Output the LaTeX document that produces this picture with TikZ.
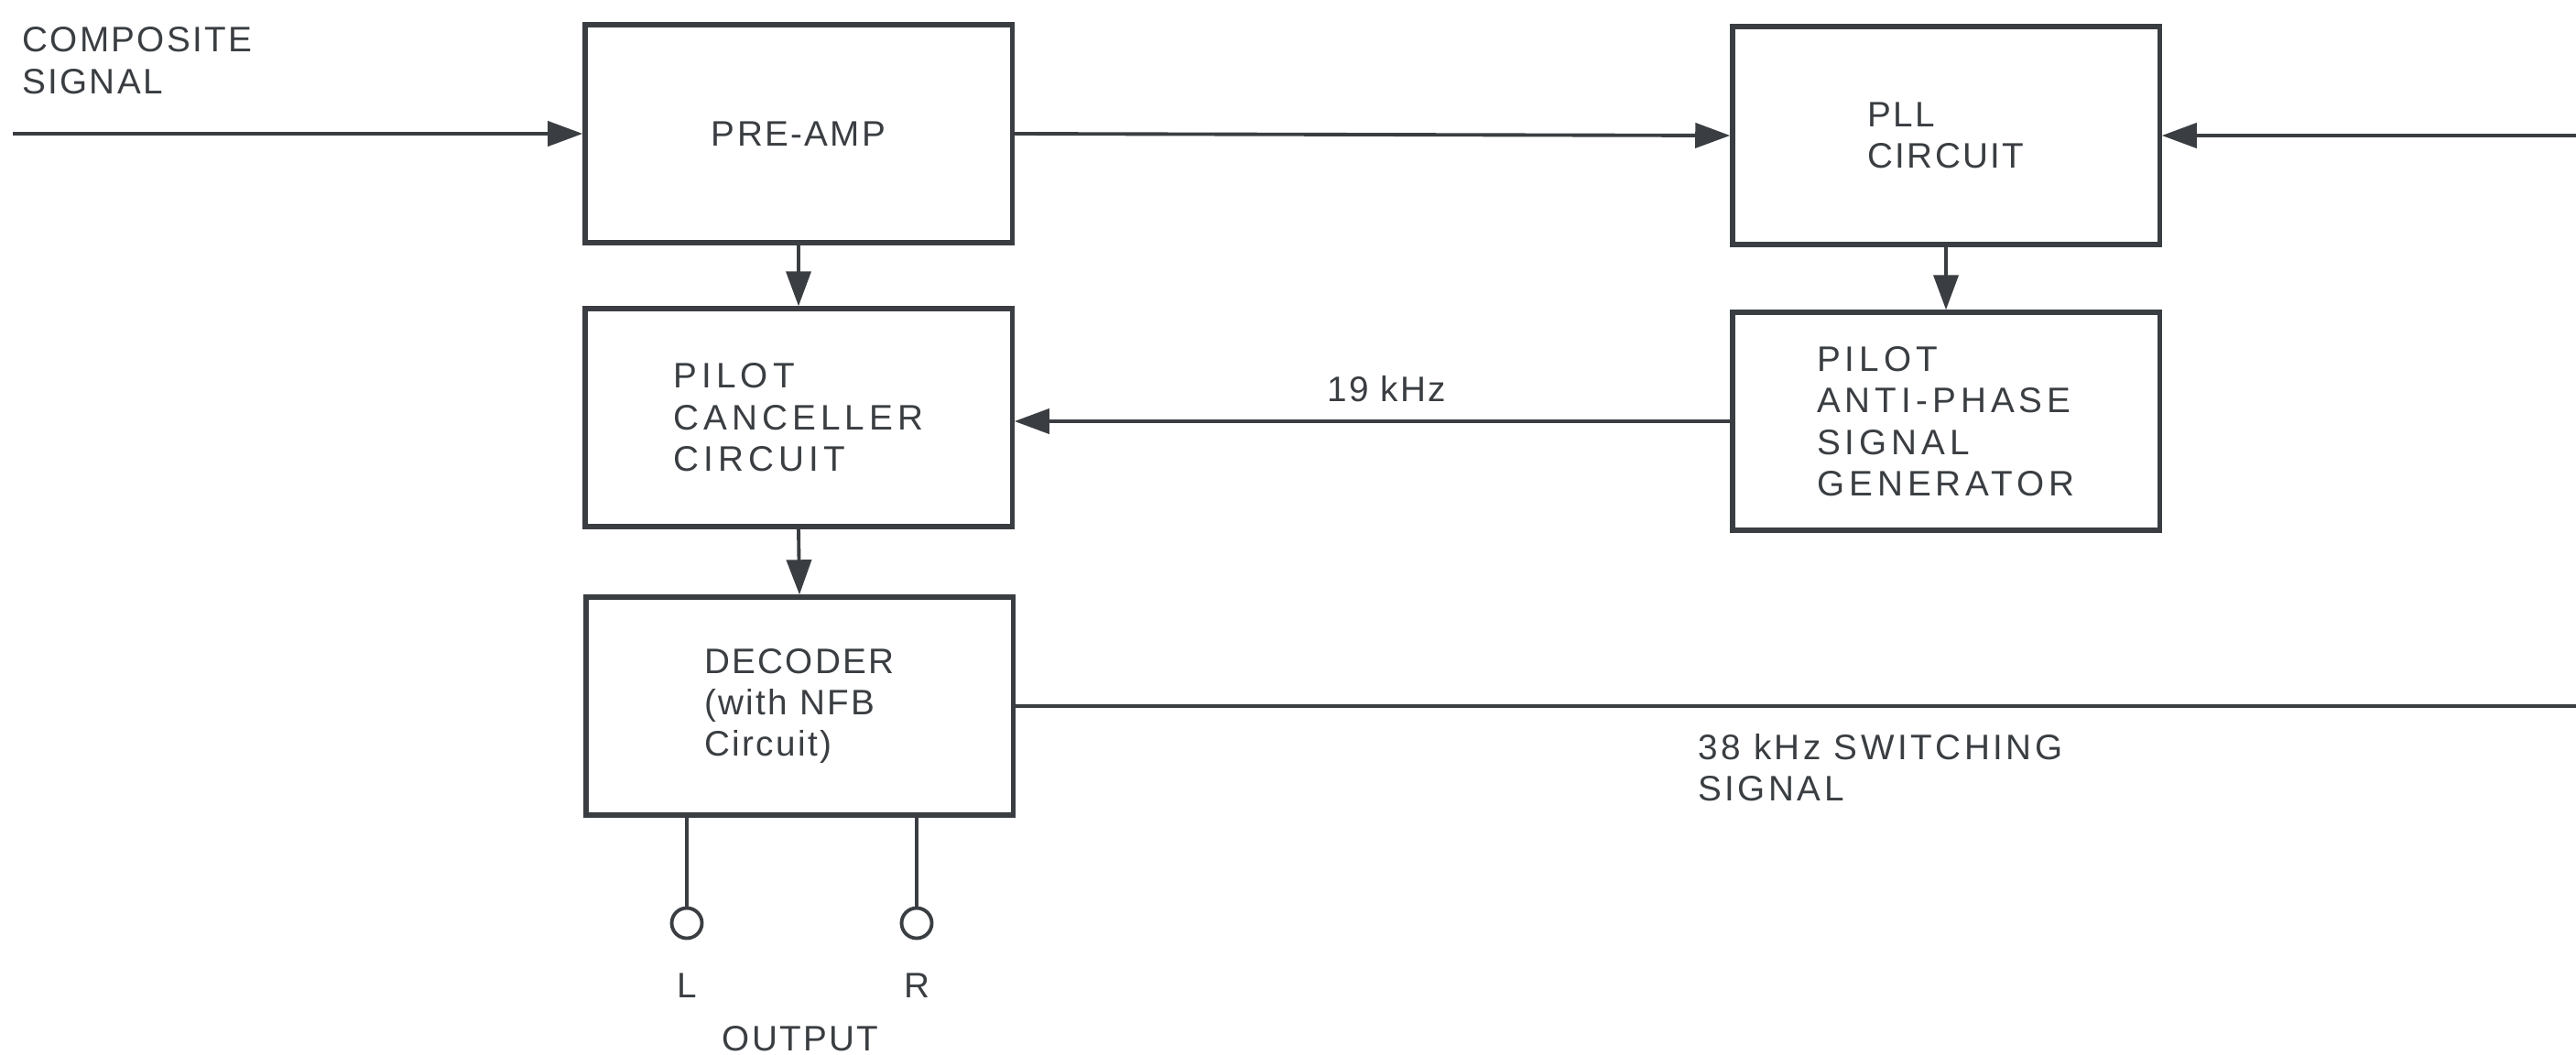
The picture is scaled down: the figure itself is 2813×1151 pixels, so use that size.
\documentclass[tikz,border=0pt]{standalone}
\usepackage{fontspec}
\setmainfont{Liberation Sans}[LetterSpace=6]
\usetikzlibrary{arrows.meta}
\definecolor{ink}{RGB}{58,62,66}
\begin{document}
\begin{tikzpicture}[x=0.01cm, y=-0.01cm,
    every node/.style={text=ink, font=\fontsize{11}{12.9}\selectfont},
    wide/.style={font=\fontsize{11}{12.9}\selectfont\addfontfeature{LetterSpace=13}},
    block/.style={draw=ink, line width=1.5pt, minimum width=4.66cm, minimum height=2.38cm, align=left},
    sig/.style={draw=ink, line width=1.1pt},
    arr/.style={sig, -{Triangle[length=3.8mm, width=2.7mm]}},
    term/.style={draw=ink, line width=1.1pt, circle, minimum size=0.33cm, inner sep=0pt}]
    \useasboundingbox (0,0) rectangle (2813,1151);

    % Blocks
    \node[block] (preamp) at (872,146) {PRE-AMP};
    \node[block, wide] (cancel) at (872,456) {PILOT\\CANCELLER\\CIRCUIT};
    \node[block] (decoder) at (873,771) {DECODER\\(with NFB\\Circuit)};
    \node[block] (pll) at (2125,148) {PLL\\CIRCUIT};
    \node[block, wide] (antiphase) at (2125,460) {PILOT\\ANTI-PHASE\\SIGNAL\\GENERATOR};

    % Inputs and outputs
    \coordinate (in) at (14,146);
    \coordinate (rin) at (2813,148);
    \coordinate (rout) at (2813,771);
    \node[anchor=west, align=left] (composite) at (12,66) {COMPOSITE\\SIGNAL};
    \node[term] (lterm) at (750,1008) {};
    \node[term] (rterm) at (1001,1008) {};
    \node (lname) at (750,1076) {L};
    \node (rname) at (1001,1076) {R};
    \node (output) at (874,1134) {OUTPUT};

    % Signal path
    \draw[arr] (in) -- (preamp.west);
    \draw[arr] (preamp.east) -- (pll.west);
    \draw[arr] (rin) -- (pll.east);
    \draw[arr] (preamp.south) -- (cancel.north);
    \draw[arr] (pll.south) -- (antiphase.north);
    \draw[arr] (antiphase.west) -- node[above=2pt, pos=0.48] (pilot) {19 kHz} (antiphase.west -| cancel.east);
    \draw[arr] (cancel.south) -- (decoder.north);
    \draw[sig] (decoder.east) -- (rout);
    \node[anchor=west, align=left, font=\fontsize{11}{12.9}\selectfont\addfontfeature{LetterSpace=9}] (switching) at (1842,838) {38 kHz SWITCHING\\SIGNAL};

    % Output leads
    \draw[sig] (decoder.south -| lterm) -- (lterm);
    \draw[sig] (decoder.south -| rterm) -- (rterm);
\end{tikzpicture}
\end{document}
